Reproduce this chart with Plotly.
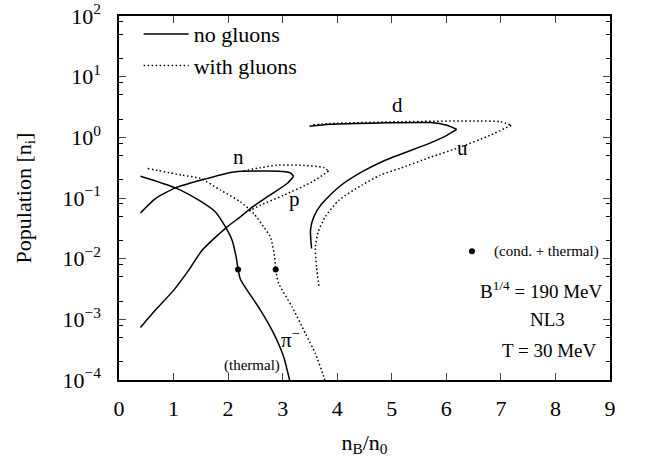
import math
import plotly.graph_objects as go

# ---------------- data ----------------
# no gluons (solid)
pi_ng_x = [0.394, 1.035, 1.462, 1.767, 1.951, 2.073, 2.147, 2.183, 2.225, 2.348, 2.592, 2.835, 3.018, 3.128, 3.15]
pi_ng_y = [0.229, 0.147, 0.092, 0.059, 0.0334, 0.0202, 0.0107, 0.00664, 0.00459, 0.00303, 0.00142, 5.86e-4, 2.41e-4, 9.95e-5, 8.5e-5]

n_ng_x = [0.394, 0.668, 1.035, 1.493, 2.103, 2.714, 3.05, 3.141, 3.201]
n_ng_y = [0.0569, 0.098, 0.147, 0.196, 0.269, 0.279, 0.271, 0.259, 0.229]

p_ng_x = [0.394, 0.668, 1.004, 1.278, 1.524, 1.982, 2.225, 2.408, 2.714, 3.081, 3.201]
p_ng_y = [7.36e-4, 0.00142, 0.00303, 0.00646, 0.0138, 0.0334, 0.0489, 0.0671, 0.104, 0.173, 0.229]

d_ng_x = [3.49, 3.87, 4.79, 5.71, 6.01, 6.19]
d_ng_y = [1.52, 1.64, 1.73, 1.75, 1.58, 1.35]

u_ng_x = [6.19, 6.01, 5.71, 4.88, 4.45, 4.03, 3.72, 3.57, 3.51, 3.53]
u_ng_y = [1.35, 1.08, 0.81, 0.42, 0.269, 0.152, 0.081, 0.0489, 0.0295, 0.0147]

# with gluons (dotted)
pi_g_x = [0.527, 1.158, 1.493, 1.859, 2.225, 2.469, 2.652, 2.775, 2.853, 2.872, 2.927, 3.172, 3.416, 3.599, 3.764, 3.78]
pi_g_y = [0.306, 0.238, 0.21, 0.135, 0.0863, 0.0556, 0.0334, 0.0229, 0.0107, 0.00664, 0.0039, 0.00161, 5.86e-4, 2.74e-4, 1.06e-4, 9.2e-5]

n_g_x = [2.286, 2.59, 2.897, 3.324, 3.751, 3.842]
n_g_y = [0.279, 0.316, 0.347, 0.347, 0.318, 0.279]

p_g_x = [3.842, 3.538, 3.018, 2.592, 2.348, 2.28]
p_g_y = [0.279, 0.184, 0.111, 0.076, 0.059, 0.055]

d_g_x = [3.56, 3.87, 5.16, 6.62, 6.99, 7.19]
d_g_y = [1.61, 1.69, 1.81, 1.86, 1.81, 1.58]

u_g_x = [7.19, 6.80, 6.25, 5.71, 5.16, 4.79, 4.45, 4.03, 3.78, 3.65, 3.60, 3.62, 3.67]
u_g_y = [1.58, 1.08, 0.687, 0.47, 0.31, 0.238, 0.163, 0.092, 0.0489, 0.0276, 0.0156, 0.00733, 0.00323]

# condensate end points (cond. + thermal)
dot_x = [2.183, 2.872]
dot_y = [0.00664, 0.00664]
key_dot_x = [6.47]
key_dot_y = [0.0133]

# labels
label_text = ["n", "p", "d", "u", "π<sup>−</sup>", "(thermal)"]
label_x = [2.19, 3.21, 5.10, 6.30, 3.14, 2.43]
label_y = [0.47, 0.095, 3.38, 0.66, 4.9e-4, 1.76e-4]
label_size = [21, 21, 21, 21, 21, 15]

info_text = ["(cond. + thermal)", "B<sup>1/4</sup> = 190 MeV", "NL3", "T = 30 MeV"]
info_x = [7.83, 7.74, 7.85, 7.90]
info_y = [0.0133, 3.03e-3, 1.0e-3, 3.11e-4]
info_size = [15, 19, 19, 19]

x_ticks = list(range(0, 10))
y_decades = list(range(-4, 3))
y_ticktext = ["10<sup>%s</sup>" % (str(k) if k >= 0 else "−" + str(-k)) for k in y_decades]

FONT = "Liberation Serif"
SOLID = dict(color="black", width=1.5)
DOTTED = dict(color="black", width=1.5, dash="1.5px,2.5px")

fig = go.Figure()

solid_sets = [(n_ng_x, n_ng_y), (p_ng_x, p_ng_y), (pi_ng_x, pi_ng_y), (d_ng_x, d_ng_y), (u_ng_x, u_ng_y)]
dotted_sets = [(pi_g_x, pi_g_y), (n_g_x, n_g_y), (p_g_x, p_g_y), (d_g_x, d_g_y), (u_g_x, u_g_y)]

for i, (xs, ys) in enumerate(solid_sets):
    fig.add_trace(go.Scatter(x=xs, y=ys, mode="lines", line=dict(SOLID, shape="spline", smoothing=0.6),
                             name="no gluons", showlegend=(i == 0)))
for i, (xs, ys) in enumerate(dotted_sets):
    fig.add_trace(go.Scatter(x=xs, y=ys, mode="lines", line=dict(DOTTED, shape="spline", smoothing=0.6),
                             name="with gluons", showlegend=(i == 0)))

fig.add_trace(go.Scatter(x=dot_x + key_dot_x, y=dot_y + key_dot_y, mode="markers",
                         marker=dict(color="black", size=6), showlegend=False))

for t, x, y, s in zip(label_text, label_x, label_y, label_size):
    fig.add_annotation(x=x, y=math.log10(y), xref="x", yref="y", text=t, showarrow=False,
                       font=dict(family=FONT, size=s, color="black"))
for t, x, y, s in zip(info_text, info_x, info_y, info_size):
    fig.add_annotation(x=x, y=math.log10(y), xref="x", yref="y", text=t, showarrow=False,
                       font=dict(family=FONT, size=s, color="black"))

fig.update_layout(
    width=648, height=461,
    margin=dict(l=119, r=38, t=16, b=81, autoexpand=False),
    paper_bgcolor="white", plot_bgcolor="white",
    font=dict(family=FONT, size=22, color="black"),
    legend=dict(x=0.04, y=1.008, xanchor="left", yanchor="top", bgcolor="rgba(0,0,0,0)",
                font=dict(family=FONT, size=22), tracegroupgap=0, itemwidth=45),
    showlegend=True,
)
fig.update_xaxes(
    range=[0, 9], tickvals=x_ticks, ticks="inside", ticklen=7, tickwidth=1, automargin=False,
    showline=True, linecolor="black", linewidth=1.5, mirror="ticks", showgrid=False, zeroline=False,
    tickfont=dict(family=FONT, size=22), ticklabelstandoff=8, ticklabeloverflow="allow",
    title=dict(text="n<sub>B</sub>/n<sub>0</sub>", font=dict(family=FONT, size=22), standoff=14),
)
fig.update_yaxes(
    type="log", range=[-4, 2], tickvals=[10.0 ** k for k in y_decades], ticktext=y_ticktext,
    ticks="inside", ticklen=7, tickwidth=1, automargin=False, ticklabeloverflow="allow",
    minor=dict(tickvals=[m * 10.0 ** k for k in y_decades[:-1] for m in (2, 5, 8)],
               ticks="inside", ticklen=4, tickwidth=1, tickcolor="black", showgrid=False),
    showline=True, linecolor="black", linewidth=1.5, mirror="ticks", showgrid=False, zeroline=False,
    tickfont=dict(family=FONT, size=22), ticklabelstandoff=12,
    title=dict(text="Population [n<sub>i</sub>]", font=dict(family=FONT, size=22), standoff=25),
)

fig.write_html("out.html", config={"displayModeBar": False},
               post_script="document.body.style.margin='0px';")
